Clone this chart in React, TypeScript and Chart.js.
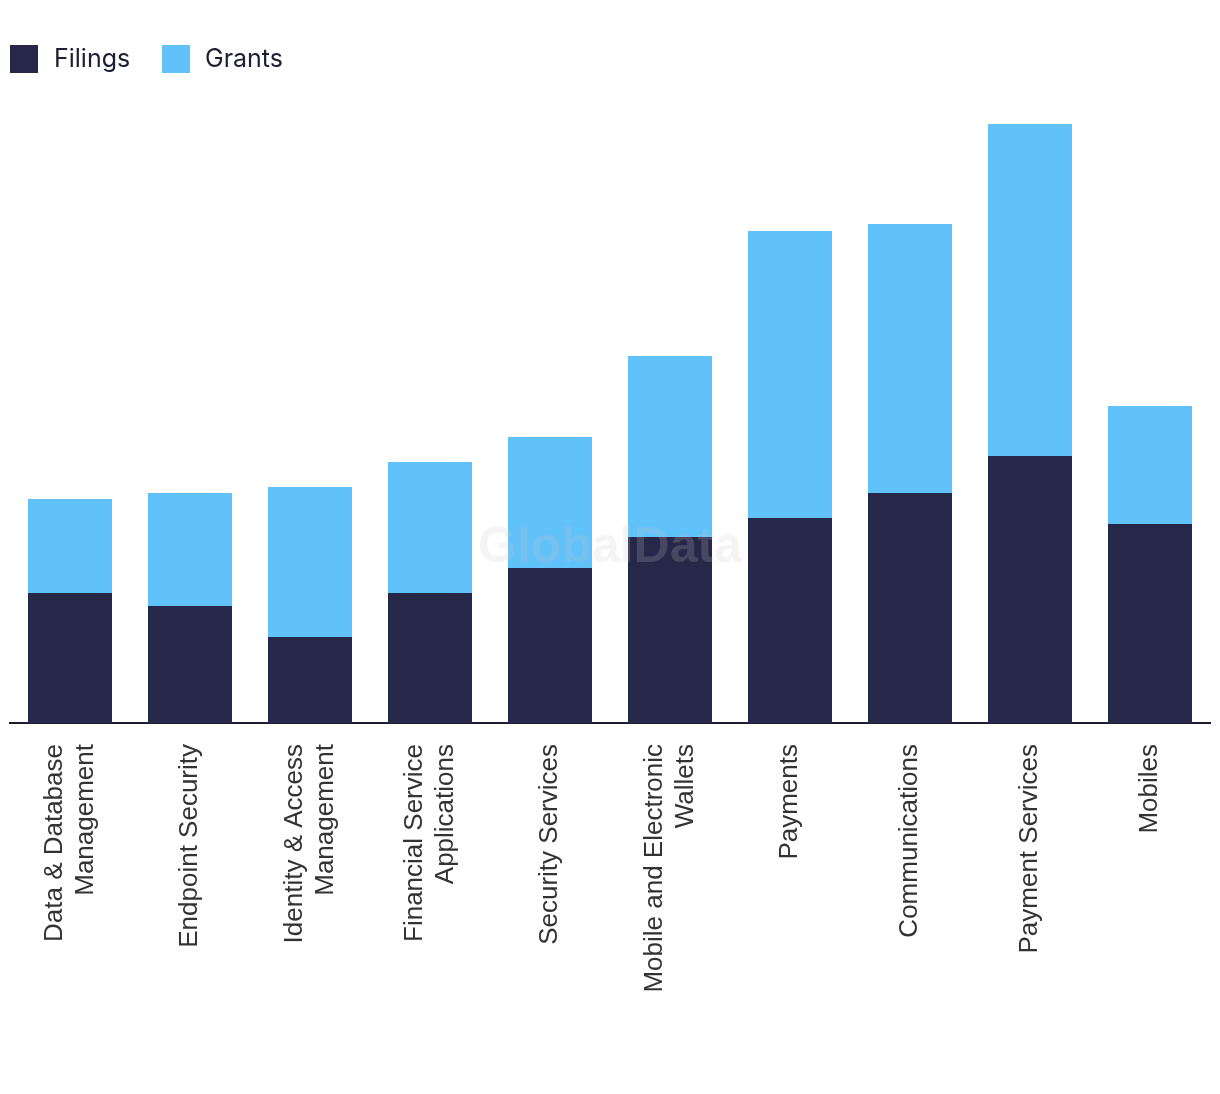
import React, { useEffect, useRef } from "react";
import { Chart, registerables } from "chart.js";

Chart.register(...registerables);

const categories: (string | string[])[] = [
  ["Data & Database", "Management"],
  "Endpoint Security",
  ["Identity & Access", "Management"],
  ["Financial Service", "Applications"],
  "Security Services",
  ["Mobile and Electronic", "Wallets"],
  "Payments",
  "Communications",
  "Payment Services",
  "Mobiles",
];

const filings = [130, 117, 86, 130, 155, 186, 205, 230, 267, 199];
const grants = [94, 113, 150, 131, 131, 181, 287, 269, 332, 118];

const FILINGS_COLOR = "#272749";
const GRANTS_COLOR = "#61c1f9";

const watermark = {
  id: "watermark",
  afterDraw(chart: any) {
    const { ctx, chartArea } = chart;
    ctx.save();
    ctx.font = "bold 50px 'Liberation Sans', Arial, sans-serif";
    ctx.fillStyle = "rgba(200,200,200,0.2)";
    ctx.textAlign = "center";
    ctx.textBaseline = "middle";
    ctx.fillText("GlobalData", (chartArea.left + chartArea.right) / 2, 548);
    ctx.restore();
  },
};

// centre multi-line rotated tick labels around their tick
const centreLabels = {
  id: "centreLabels",
  beforeDraw(chart: any) {
    const scale = chart.scales.x;
    const items = scale.getLabelItems();
    items.forEach((it: any) => {
      if (Array.isArray(it.label) && !it._centred) {
        const lh = it.font.lineHeight;
        it.textOffset -= ((it.label.length - 1) * lh) / 2;
        it._centred = true;
      }
    });
  },
};

export default function App() {
  const ref = useRef<HTMLCanvasElement>(null);

  useEffect(() => {
    if (!ref.current) return;
    const chart = new Chart(ref.current, {
      type: "bar",
      data: {
        labels: categories,
        datasets: [
          { label: "Filings", data: filings, backgroundColor: FILINGS_COLOR },
          { label: "Grants", data: grants, backgroundColor: GRANTS_COLOR },
        ],
      },
      options: {
        responsive: false,
        animation: false,
        layout: { padding: { left: 10, right: 10, top: 100, bottom: 0 } },
        datasets: { bar: { categoryPercentage: 1, barPercentage: 0.7 } },
        plugins: {
          legend: { display: false },
          tooltip: { enabled: false },
        },
        scales: {
          x: {
            stacked: true,
            grid: { display: false },
            border: { display: true, color: "#1a1a30", width: 2 },
            ticks: {
              maxRotation: 90,
              minRotation: 90,
              padding: 13,
              color: "#333333",
              font: { family: "'Liberation Sans', Arial, sans-serif", size: 26 },
            },
            afterFit: (s: any) => {
              s.height = 1094 - 723;
            },
          },
          y: {
            stacked: true,
            display: false,
            min: 0,
            max: 623,
          },
        },
      },
      plugins: [centreLabels, watermark],
    });
    return () => chart.destroy();
  }, []);

  const legendText: React.CSSProperties = {
    position: "absolute",
    top: 43,
    fontFamily: "Inter, 'Noto Sans', sans-serif",
    fontSize: 25,
    lineHeight: "30px",
    color: "#1d1d33",
  };

  return (
    <div style={{ position: "absolute", left: 0, top: 0, width: 1220, height: 1094, background: "#fff" }}>
      <canvas ref={ref} width={1220} height={1094} style={{ width: 1220, height: 1094, display: "block" }} />
      <div style={{ position: "absolute", left: 10, top: 45, width: 28, height: 28, background: FILINGS_COLOR }} />
      <div style={{ ...legendText, left: 54 }}>Filings</div>
      <div style={{ position: "absolute", left: 162, top: 45, width: 28, height: 28, background: GRANTS_COLOR }} />
      <div style={{ ...legendText, left: 205 }}>Grants</div>
    </div>
  );
}
